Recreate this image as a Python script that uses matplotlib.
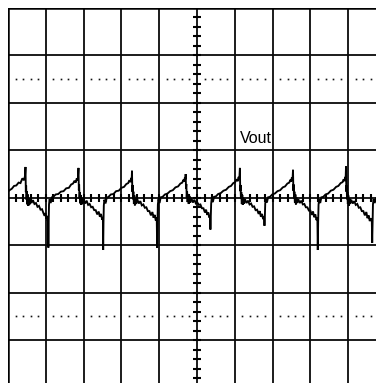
import matplotlib
matplotlib.use("Agg")
import matplotlib.pyplot as plt
import numpy as np

# Scope screen: 10 horizontal x 8 vertical divisions, trace in division units
n_xdiv = 10
n_ydiv = 8
minor_step = 0.2
dotted_rows = [2.5, -2.5]
trace_label = "Vout"

# Output voltage trace (time in div, amplitude in div)
t = [
    0.000, 0.040, 0.100, 0.160, 0.220, 0.280, 0.330, 0.380, 0.420, 0.450, 0.463,
    0.472, 0.480, 0.490, 0.500, 0.512, 0.525, 0.538, 0.552, 0.570, 0.590, 0.620,
    0.660, 0.700, 0.740, 0.780, 0.820, 0.860, 0.900, 0.940, 0.970, 0.990, 1.010,
    1.030, 1.050, 1.060, 1.068, 1.076, 1.085, 1.100, 1.130, 1.160, 1.200, 1.260,
    1.330, 1.400, 1.470, 1.540, 1.610, 1.670, 1.720, 1.760, 1.790, 1.820, 1.845,
    1.865,
    1.874, 1.882, 1.892, 1.902, 1.915, 1.928, 1.940, 1.955, 1.975, 2.000, 2.040,
    2.080, 2.120, 2.160, 2.200, 2.240, 2.280, 2.320, 2.360, 2.400, 2.430, 2.460,
    2.490, 2.510, 2.518, 2.526, 2.535, 2.550, 2.580, 2.610, 2.660, 2.720, 2.790,
    2.860, 2.930, 3.000, 3.070, 3.130, 3.180, 3.210, 3.240, 3.260, 3.272, 3.280,
    3.289, 3.297, 3.307, 3.317, 3.330, 3.343, 3.356, 3.370, 3.390, 3.420, 3.460,
    3.500, 3.540, 3.580, 3.620, 3.660, 3.700, 3.740, 3.780, 3.820, 3.850, 3.880,
    3.910, 3.935, 3.945, 3.955, 3.965, 3.980, 4.010, 4.040, 4.090, 4.150, 4.220,
    4.290, 4.360, 4.430, 4.500, 4.560, 4.610, 4.640, 4.660, 4.680, 4.692, 4.700,
    4.709, 4.718, 4.728, 4.738, 4.750, 4.765, 4.780, 4.800, 4.820, 4.850, 4.890,
    4.930, 4.970, 5.010, 5.050, 5.090, 5.130, 5.170, 5.210, 5.240, 5.270, 5.300,
    5.330, 5.345, 5.355, 5.365, 5.375, 5.390, 5.420, 5.450, 5.500, 5.560, 5.630,
    5.700, 5.770, 5.840, 5.900, 5.960, 6.010, 6.050, 6.080, 6.100, 6.120, 6.135,
    6.144, 6.152, 6.162, 6.172, 6.185, 6.198, 6.210, 6.225, 6.245, 6.270, 6.310,
    6.350, 6.390, 6.430, 6.470, 6.510, 6.550, 6.590, 6.630, 6.660, 6.690, 6.720,
    6.750, 6.775, 6.785, 6.795, 6.805, 6.820, 6.850, 6.880, 6.930, 6.990, 7.060,
    7.130, 7.200, 7.270, 7.330, 7.390, 7.440, 7.470, 7.490, 7.510, 7.528, 7.540,
    7.549, 7.557, 7.567, 7.577, 7.590, 7.603, 7.616, 7.630, 7.650, 7.680, 7.720,
    7.760, 7.800, 7.840, 7.880, 7.920, 7.960, 8.000, 8.040, 8.070, 8.100, 8.130,
    8.160, 8.185, 8.195, 8.205, 8.215, 8.230, 8.260, 8.290, 8.340, 8.400, 8.470,
    8.540, 8.610, 8.680, 8.740, 8.800, 8.850, 8.880, 8.900, 8.920, 8.932, 8.942,
    8.951, 8.959, 8.969, 8.979, 8.990, 9.003, 9.016, 9.030, 9.050, 9.080, 9.120,
    9.160, 9.200, 9.240, 9.280, 9.320, 9.360, 9.400, 9.440, 9.480, 9.510, 9.540,
    9.570, 9.600, 9.625, 9.635, 9.645, 9.655, 9.670, 9.700, 9.740,
]
v = [
    0.13, 0.16, 0.19, 0.25, 0.26, 0.32, 0.31, 0.41, 0.37, 0.46, 0.65,
    0.12, 0.26, -0.04, 0.14, -0.14, 0.07, -0.17, -0.01, -0.14, -0.03, -0.11,
    -0.05, -0.13, -0.11, -0.19, -0.17, -0.25, -0.24, -0.33, -0.38, -0.32, -0.44,
    -0.38, -0.49, -0.44, -1.05, -0.50, -0.14, -0.03, -0.11, 0.01, 0.02, 0.07,
    0.08, 0.13, 0.14, 0.20, 0.21, 0.28, 0.30, 0.36, 0.32, 0.41, 0.37,
    0.63,
    0.16, 0.28, -0.02, 0.12, -0.12, 0.06, -0.15, 0.00, -0.12, -0.04, -0.12,
    -0.06, -0.15, -0.13, -0.20, -0.19, -0.26, -0.26, -0.35, -0.29, -0.40, -0.34,
    -0.46, -0.41, -1.10, -0.52, -0.16, -0.04, -0.12, 0.00, 0.02, 0.07, 0.08,
    0.14, 0.15, 0.21, 0.23, 0.29, 0.31, 0.37, 0.33, 0.42, 0.38, 0.57,
    0.13, 0.27, -0.03, 0.13, -0.13, 0.05, -0.16, -0.01, -0.13, -0.03, -0.12,
    -0.07, -0.16, -0.14, -0.21, -0.20, -0.28, -0.28, -0.37, -0.30, -0.42, -0.36,
    -0.48, -0.42, -1.05, -0.50, -0.14, -0.03, -0.11, 0.01, 0.02, 0.07, 0.09,
    0.14, 0.16, 0.22, 0.24, 0.30, 0.32, 0.38, 0.34, 0.43, 0.39, 0.50,
    0.20, 0.29, 0.01, 0.14, -0.09, 0.08, -0.13, 0.04, -0.10, 0.00, -0.10,
    -0.04, -0.12, -0.10, -0.15, -0.14, -0.22, -0.22, -0.31, -0.25, -0.36, -0.31,
    -0.42, -0.37, -0.67, -0.42, -0.12, -0.02, -0.09, 0.02, 0.03, 0.08, 0.10,
    0.15, 0.17, 0.23, 0.25, 0.31, 0.33, 0.39, 0.35, 0.44, 0.40, 0.63,
    0.14, 0.27, -0.02, 0.12, -0.13, 0.06, -0.15, 0.00, -0.12, -0.03, -0.11,
    -0.06, -0.14, -0.12, -0.19, -0.18, -0.26, -0.25, -0.34, -0.28, -0.40, -0.34,
    -0.45, -0.40, -0.59, -0.40, -0.12, -0.02, -0.10, 0.01, 0.02, 0.07, 0.09,
    0.14, 0.16, 0.22, 0.24, 0.30, 0.32, 0.38, 0.34, 0.43, 0.39, 0.59,
    0.15, 0.28, -0.01, 0.13, -0.11, 0.07, -0.14, 0.01, -0.11, -0.03, -0.11,
    -0.06, -0.14, -0.13, -0.20, -0.20, -0.27, -0.27, -0.36, -0.29, -0.41, -0.35,
    -0.47, -0.42, -1.10, -0.52, -0.15, -0.03, -0.11, 0.01, 0.02, 0.07, 0.09,
    0.15, 0.17, 0.23, 0.25, 0.31, 0.33, 0.39, 0.35, 0.44, 0.40, 0.66,
    0.13, 0.26, -0.03, 0.12, -0.13, 0.05, -0.17, -0.01, -0.13, -0.04, -0.12,
    -0.07, -0.15, -0.13, -0.21, -0.20, -0.28, -0.28, -0.37, -0.30, -0.43, -0.37,
    -0.49, -0.43, -0.50, -0.95, -0.48, -0.14, -0.03, -0.11, -0.01,
]

W, H, DPI = 376, 383, 100
fig = plt.figure(figsize=(W / DPI, H / DPI), dpi=DPI)
fig.patch.set_facecolor("white")

# Graticule origin at pixel (8, 8); one division is 37.8 px wide and 47.45 px tall
x0_px, y0_px = 8.0, 8.0
dx_px, dy_px = 37.8, 47.45
ax = fig.add_axes([
    x0_px / W,
    1 - (y0_px + n_ydiv * dy_px) / H,
    n_xdiv * dx_px / W,
    n_ydiv * dy_px / H,
])
ax.set_xlim(0, n_xdiv)
ax.set_ylim(-n_ydiv / 2, n_ydiv / 2)
ax.axis("off")

grid_kw = dict(color="#0a0a0a", lw=1.3, zorder=1, solid_capstyle="butt")
for i in range(n_xdiv + 1):
    ax.axvline(i, **grid_kw)
for j in range(n_ydiv + 1):
    ax.axhline(j - n_ydiv / 2, **grid_kw)
# heavier outer edge
ax.axvline(0, color="black", lw=1.8, zorder=1)
ax.axhline(n_ydiv / 2, color="black", lw=1.8, zorder=1)

# minor ticks along the centre axes
cx = n_xdiv / 2
tick_kw = dict(color="black", lw=1.5, zorder=2, solid_capstyle="butt")
yt = np.arange(-n_ydiv / 2, n_ydiv / 2 + 1e-9, minor_step)
for y in yt:
    ax.plot([cx - 0.105, cx + 0.105], [y, y], **tick_kw)
xt = np.arange(0, n_xdiv + 1e-9, minor_step)
for x in xt:
    ax.plot([x, x], [-0.085, 0.085], **tick_kw)

# dotted sub-division rows
for yr in dotted_rows:
    xs = [i + f for i in range(n_xdiv) for f in (0.2, 0.4, 0.6, 0.8)]
    ax.plot(xs, [yr] * len(xs), ls="none", marker="s", ms=1.2,
            mew=0, color="#111111", zorder=2)

ax.plot(t, v, color="black", lw=1.35, zorder=3, solid_joinstyle="miter")

ax.text(6.14, 1.165, trace_label, fontsize=11.5, family="Liberation Sans",
        color="black", ha="left", va="baseline", zorder=4)

fig.savefig("out.png", dpi=DPI, facecolor="white")
